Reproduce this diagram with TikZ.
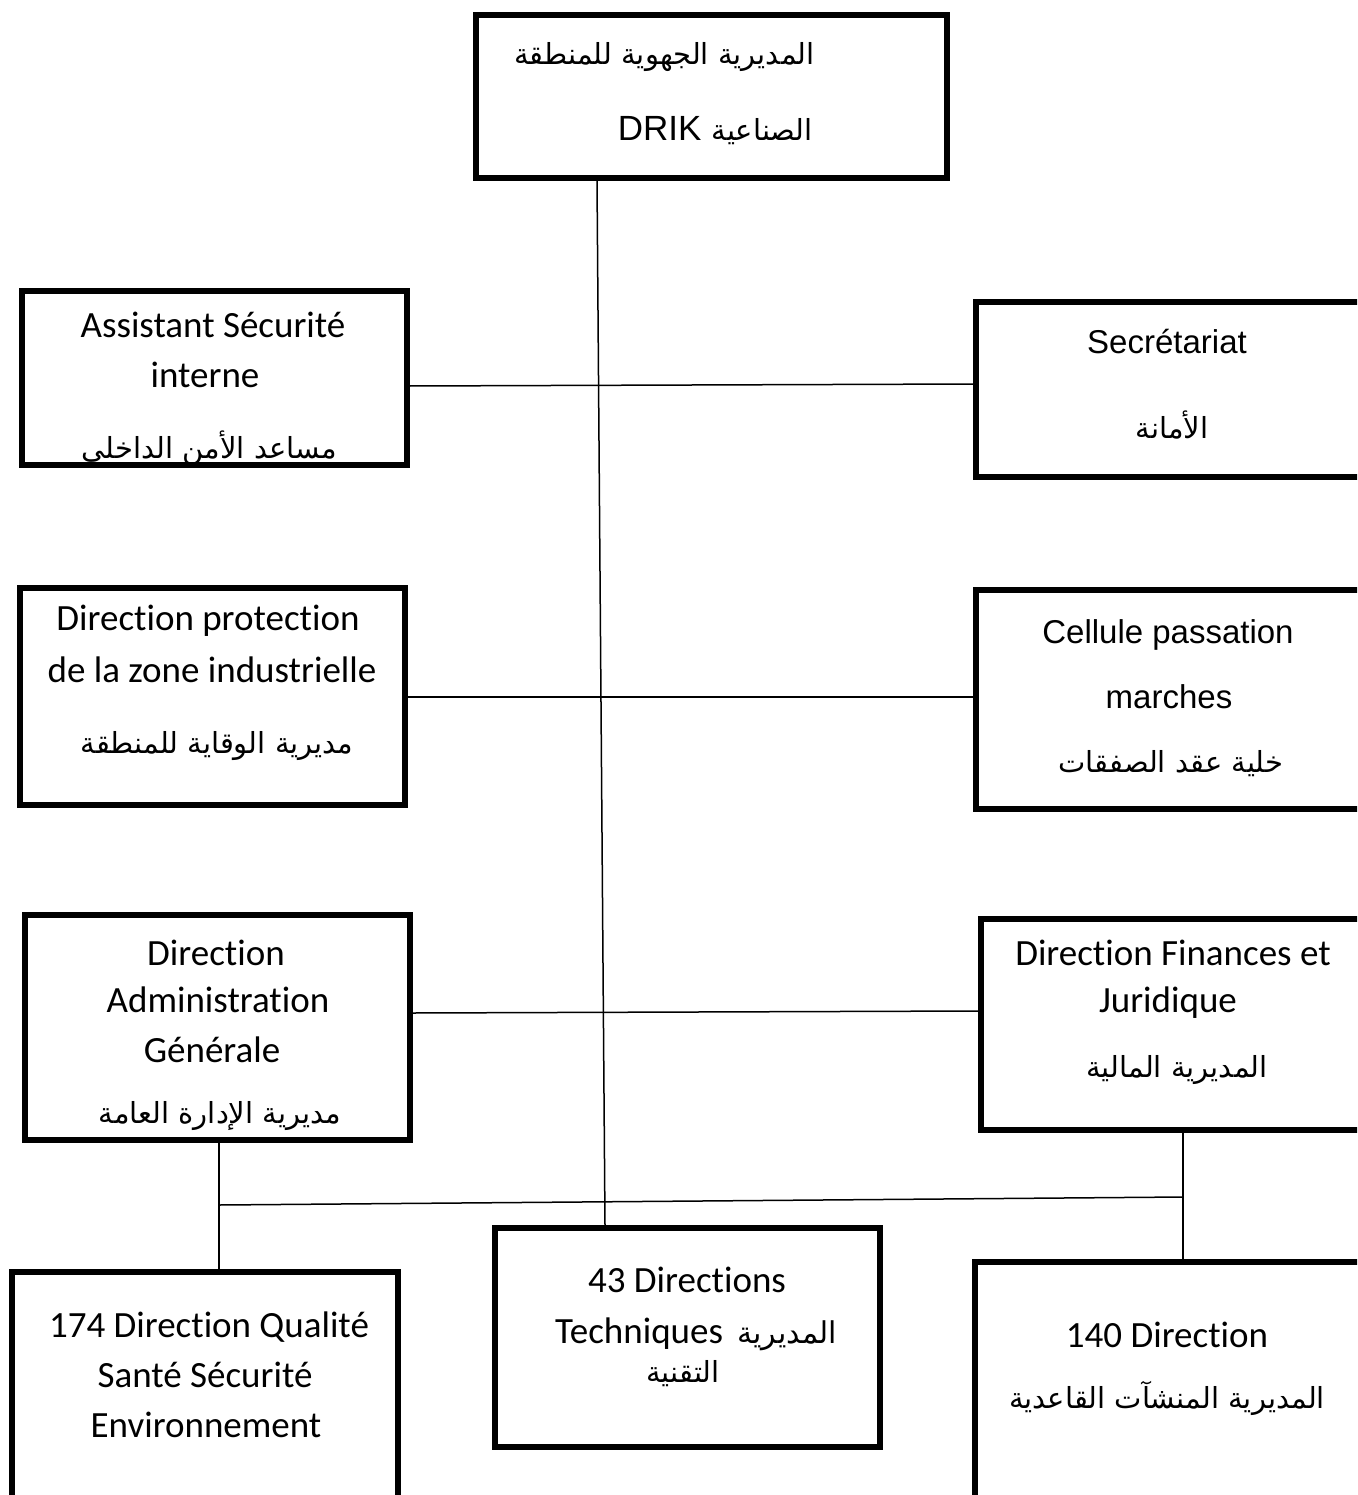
\documentclass[tikz,border=0pt]{standalone}
\usepackage{fontspec}
\setmainfont{Carlito}
\newfontfamily\arialf{Liberation Sans}
\newfontfamily\calf[Ligatures={NoCommon}]{Carlito}
\newfontfamily\arabicfont[Script=Arabic]{DejaVu Sans}
\TeXXeTstate=1
\tikzset{
  box/.style={draw, line width=5.5pt, inner sep=0pt, rectangle},
  link/.style={draw, line width=1.5pt},
  txt/.style={inner sep=0pt, anchor=base},
  cal/.style={font=\calf\fontsize{37}{44}\selectfont},
  ari/.style={font=\arialf\fontsize{33}{40}\selectfont},
  arb/.style={font=\arabicfont\fontsize{29}{34}\selectfont},
}
\newcommand{\ar}[1]{{\arabicfont\beginR #1\endR}}
\begin{document}
\begin{tikzpicture}[x=1pt,y=-1pt]
\useasboundingbox (0,0) rectangle (1357,1495);
\clip (0,0) rectangle (1357,1495);

% boxes
\node[box, minimum width=471pt, minimum height=163pt] (top) at (711.5,96.5) {};
\node[box, minimum width=444pt, minimum height=175pt] (secr) at (1198,389.5) {};
\node[box, minimum width=385pt, minimum height=217pt] (prot) at (212.5,696.5) {};
\node[box, minimum width=444pt, minimum height=219pt] (cell) at (1198,699.5) {};
\node[box, minimum width=385pt, minimum height=225pt] (admin) at (217.5,1027.5) {};
\node[box, minimum width=439pt, minimum height=211pt] (fin) at (1200.5,1024.5) {};
\node[box, minimum width=386pt, minimum height=288pt] (q174) at (205,1416) {};
\node[box, minimum width=385pt, minimum height=219pt] (t43) at (687.5,1337.5) {};
\node[box, minimum width=445pt, minimum height=298pt] (n140) at (1197.5,1411) {};

% box with clipped Arabic line
\begin{scope}
\clip (22,291) rectangle (407,465);
\node[txt, arb, anchor=base east] (asst3) at (337,458) {\ar{مساعد الأمن الداخلي}};
\end{scope}
\node[box, minimum width=385pt, minimum height=174pt] (asst) at (214.5,378) {};

% connectors
\draw[link] ([xshift=-114.5pt]top.south) -- ([xshift=-82.5pt]t43.north);
\draw[link] ([yshift=-8pt]asst.east) -- ([yshift=5.5pt]secr.west);
\draw[link] ([yshift=-0.5pt]prot.east) -- ([yshift=2.5pt]cell.west);
\draw[link] ([yshift=14.5pt]admin.east) -- ([yshift=13.5pt]fin.west);
\coordinate (jl) at (219,1205);
\coordinate (jr) at (1183,1197);
\draw[link] (admin.south -| jl) -- (q174.north -| jl);
\draw[link] (jl) -- (jr);
\draw[link] (fin.south -| jr) -- (n140.north -| jr);

% texts
\node[txt, arb, anchor=base east] (top1) at (815,65) {\ar{المديرية الجهوية للمنطقة}};
\node[txt, anchor=base east] (top2) at (813,141) {{\arialf\fontsize{35}{40}\selectfont DRIK}\hspace{10pt}{\arabicfont\fontsize{29}{34}\selectfont\beginR الصناعية\endR}};

\node[txt, cal] (asst1) at (213,337) {Assistant Sécurité};
\node[txt, cal] (asst2) at (205,387) {interne};

\node[txt, ari] (secr1) at (1167,353) {Secrétariat};
\node[txt, arb] (secr2) at (1172,438) {\ar{الأمانة}};

\node[txt, cal] (prot1) at (208,630) {Direction protection};
\node[txt, cal] (prot2) at (212,682) {de la zone industrielle};
\node[txt, arb] (prot3) at (217,753) {\ar{مديرية الوقاية للمنطقة}};

\node[txt, ari] (cell1) at (1168,643) {Cellule passation};
\node[txt, ari] (cell2) at (1169,708) {marches};
\node[txt, arb] (cell3) at (1171,772) {\ar{خلية عقد الصفقات}};

\node[txt, cal] (admin1) at (216,965) {Direction};
\node[txt, cal] (admin2) at (218,1012) {Administration};
\node[txt, cal] (admin3) at (212,1062) {Générale};
\node[txt, arb] (admin4) at (220,1123) {\ar{مديرية الإدارة العامة}};

\node[txt, cal] (fin1) at (1173,965) {Direction Finances et};
\node[txt, cal] (fin2) at (1168,1012) {Juridique};
\node[txt, arb] (fin3) at (1177,1077) {\ar{المديرية المالية}};

\node[txt, cal] (q1) at (209,1337) {174 Direction Qualité};
\node[txt, cal] (q2) at (205,1387) {Santé Sécurité};
\node[txt, cal] (q3) at (206,1437) {Environnement};

\node[txt, cal] (t1) at (687,1292) {43 Directions};
\node[txt, cal] (t2) at (696,1343) {Techniques\hspace{14pt}{\arabicfont\fontsize{30}{34}\selectfont\beginR المديرية\endR}};
\node[txt, arb] (t3) at (683,1382) {\ar{التقنية}};

\node[txt, cal] (n1) at (1167,1347) {140 Direction};
\node[txt, arb] (n2) at (1167,1408) {\ar{المديرية المنشآت القاعدية}};
\end{tikzpicture}
\end{document}
